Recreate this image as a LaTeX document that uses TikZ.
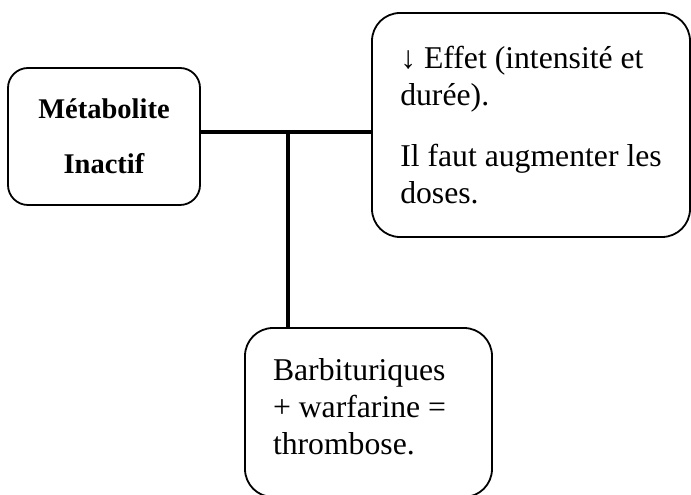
\documentclass[tikz,border=0pt]{standalone}
\usepackage{fontspec}
\setmainfont{Liberation Serif}
\usepackage{tikz}
\usetikzlibrary{positioning}
\tikzstyle{box} = [
    rectangle, draw,
    rounded corners=28pt,
    line width=1.8pt,
    align=flush left,
    draw=black,
    fill=white
]
\tikzstyle{link} = [
    line width=3.5pt
]

\begin{document}
\begin{tikzpicture}[
        x=1pt, y=1pt, font=\fontsize{31.7}{37}\selectfont
    ]
    \useasboundingbox (0,0) rectangle (691,495);
    \node[box, rounded corners=20pt, align=center, minimum width=192pt, minimum height=137pt,
        font=\fontsize{28.5}{55}\selectfont\bfseries] (metab) at (104,358.5) {Métabolite\\Inactif};
    \node[box, minimum width=318pt, minimum height=224pt] (effet) at (531,370)
        {↓ Effet (intensité et\\durée).\\[24pt]Il faut augmenter les\\doses.};
    \node[box, inner xsep=28pt, text width=191pt, minimum height=169pt] (barbi) at (368.5,82.5)
        {Barbituriques\\+ warfarine =\\thrombose.\par\vskip12pt\hrule height 0pt};
    \coordinate (jonction) at (288,363);
    \draw[link] (metab.east |- jonction) -- (effet.west |- jonction);
    \draw[link] (jonction) -- (barbi.north -| jonction);
\end{tikzpicture}
\end{document}
